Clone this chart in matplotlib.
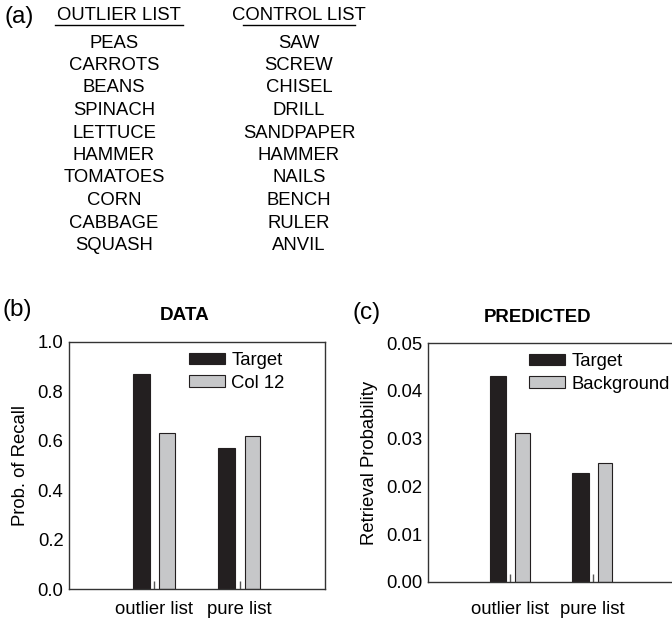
import matplotlib
matplotlib.use("Agg")
import matplotlib.pyplot as plt
from matplotlib.lines import Line2D

plt.rcParams['font.family'] = ['Liberation Sans', 'DejaVu Sans']

W, H = 672, 622

outlier_list = ["PEAS", "CARROTS", "BEANS", "SPINACH", "LETTUCE", "HAMMER",
                "TOMATOES", "CORN", "CABBAGE", "SQUASH"]
control_list = ["SAW", "SCREW", "CHISEL", "DRILL", "SANDPAPER", "HAMMER",
                "NAILS", "BENCH", "RULER", "ANVIL"]

categories = ["outlier list", "pure list"]
data_target = [0.87, 0.57]
data_col12 = [0.63, 0.62]
pred_target = [0.0432, 0.0228]
pred_background = [0.0312, 0.0249]

BLACK = "#231f20"
GRAY = "#c6c7c9"
EDGE = "#231f20"
FS = 13.3

fig = plt.figure(figsize=(W / 100, H / 100), dpi=100)


def fx(x):
    return x / W


def fy(y):
    return 1 - y / H


# ---- Panel (a) ----
fig.text(fx(4), fy(17), "(a)", fontsize=17.5, ha="left", va="center")
fig.text(fx(119), fy(15), "OUTLIER LIST", fontsize=FS, ha="center", va="center")
fig.text(fx(299), fy(15), "CONTROL LIST", fontsize=FS, ha="center", va="center")
fig.add_artist(Line2D([fx(55), fx(183)], [fy(24.5), fy(24.5)], color="black", lw=1.0))
fig.add_artist(Line2D([fx(243), fx(355)], [fy(24.5), fy(24.5)], color="black", lw=1.0))
y0, dy = 43, 22.5
for i, w in enumerate(outlier_list):
    fig.text(fx(114), fy(y0 + i * dy), w, fontsize=FS, ha="center", va="center")
for i, w in enumerate(control_list):
    fig.text(fx(299), fy(y0 + i * dy), w, fontsize=FS, ha="center", va="center")


def make_axes(l, r, t, b):
    return fig.add_axes([fx(l), fy(b), (r - l) / W, (b - t) / H])


def style(ax, pad):
    for s in ax.spines.values():
        s.set_color("#333333")
        s.set_linewidth(1.0)
    ax.tick_params(axis="y", length=0, pad=4, labelsize=FS)
    ax.tick_params(axis="x", direction="in", length=6, width=1.0, color="#555555",
                   labelsize=FS, pad=pad)
    ax.set_xlim(0, 3)
    ax.set_xticks([1, 2])
    ax.set_xticklabels(categories)


xs = [1, 2]
off = 0.15
bw = 0.2
leg_kw = dict(frameon=False, fontsize=FS, handlelength=1.95, handleheight=0.6,
              handletextpad=0.35, labelspacing=0.3, borderpad=0, borderaxespad=0)

# ---- Panel (b) ----
axb = make_axes(69, 325, 342, 589)
axb.bar([x - off for x in xs], data_target, width=bw, color=BLACK, edgecolor=EDGE,
        linewidth=0.8, label="Target")
axb.bar([x + off for x in xs], data_col12, width=bw * 0.9, color=GRAY, edgecolor=EDGE,
        linewidth=0.8, label="Col 12")
axb.set_ylim(0, 1.0)
axb.set_yticks([0, 0.2, 0.4, 0.6, 0.8, 1.0])
axb.set_yticklabels(["0.0", "0.2", "0.4", "0.6", "0.8", "1.0"])
style(axb, 9)
axb.set_ylabel("Prob. of Recall", fontsize=FS, labelpad=6)
axb.legend(loc="upper left", bbox_to_anchor=((189 - 69) / 256, 1 - 10 / 247), **leg_kw)
fig.text(fx(185), fy(316), "DATA", fontsize=13.6, fontweight="bold",
         ha="center", va="center")
fig.text(fx(3), fy(310), "(b)", fontsize=17.5, ha="left", va="center")

# ---- Panel (c) ----
axc = make_axes(428, 675, 343, 582)
axc.bar([x - off for x in xs], pred_target, width=bw, color=BLACK, edgecolor=EDGE,
        linewidth=0.8, label="Target")
axc.bar([x + off for x in xs], pred_background, width=bw * 0.9, color=GRAY,
        edgecolor=EDGE, linewidth=0.8, label="Background")
axc.set_ylim(0, 0.05)
axc.set_yticks([0, 0.01, 0.02, 0.03, 0.04, 0.05])
axc.set_yticklabels(["0.00", "0.01", "0.02", "0.03", "0.04", "0.05"])
style(axc, 14)
axc.set_ylabel("Retrieval Probability", fontsize=FS, labelpad=6)
axc.legend(loc="upper left", bbox_to_anchor=((529 - 428) / 247, 1 - 10 / 239), **leg_kw)
fig.text(fx(538), fy(317), "PREDICTED", fontsize=13.4, fontweight="bold",
         ha="center", va="center")
fig.text(fx(352), fy(313), "(c)", fontsize=17.5, ha="left", va="center")

fig.savefig("out.png", dpi=100)
